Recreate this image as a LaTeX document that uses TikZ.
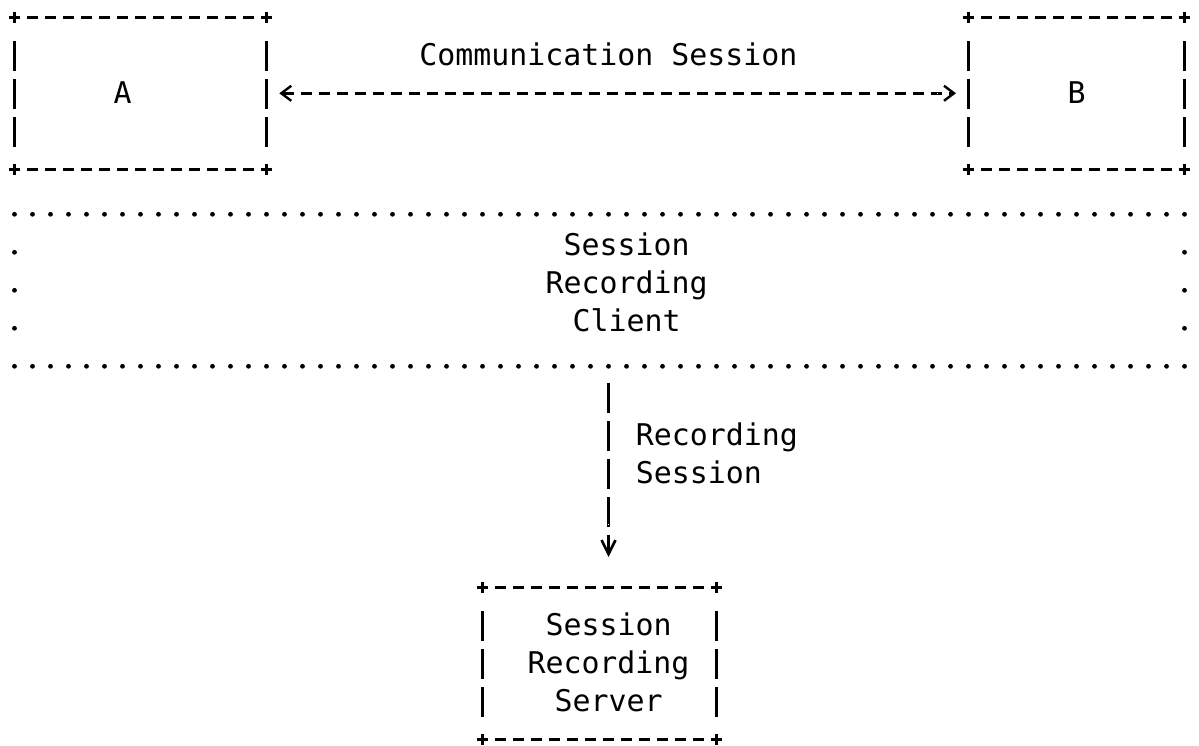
\documentclass[tikz,border=0pt]{standalone}
\usepackage{fontspec}
\newfontfamily\asciifont{DejaVu Sans Mono}
\usetikzlibrary{arrows.meta}

\newcommand{\asciibox}[1]{%
    \draw [hedge] ([xshift=-2.875pt]#1.north west) -- ([xshift=2.875pt]#1.north east);
    \draw [hedge] ([xshift=-2.875pt]#1.south west) -- ([xshift=2.875pt]#1.south east);
    \draw [vedge] ([yshift=-12pt]#1.north west) -- ([yshift=11pt]#1.south west);
    \draw [vedge] ([yshift=-12pt]#1.north east) -- ([yshift=11pt]#1.south east);
    \foreach \corner in {north west, north east, south west, south east}
        \draw [cross] ([yshift=2.9pt]#1.\corner) -- ([yshift=-2.9pt]#1.\corner);
}

\begin{document}
\begin{tikzpicture}[x=9pt, y=-19pt,
        abox/.style={minimum width=#1, minimum height=76pt, inner sep=0pt, outer sep=0pt},
        hedge/.style={line width=1.2pt, dash pattern=on 5.75pt off 3.25pt},
        vedge/.style={line width=1.3pt, dash pattern=on 15pt off 4pt},
        cross/.style={line width=1.3pt},
        hdots/.style={line width=2.4pt, line cap=round, dash pattern=on 0pt off 9pt},
        vdots/.style={line width=2.4pt, line cap=round, dash pattern=on 0pt off 19pt},
        txt/.style={font=\asciifont\fontsize{14.95pt}{19pt}\selectfont, inner sep=0pt, anchor=base, yshift=-5pt},
        comm/.style={line width=1.2pt, dash pattern=on 5.75pt off 3.25pt,
            {Straight Barb[length=5pt, width=7.5pt] Bar[width=0pt, line width=0pt, color=white, sep=3.5pt]}-{Bar[width=0pt, line width=0pt, color=white, sep=2.5pt] Straight Barb[length=5pt, width=7.5pt]},
            shorten <=6.4pt, shorten >=6.25pt},
        rec/.style={line width=1.3pt, dash pattern=on 15pt off 4pt,
            -{Bar[width=0pt, line width=0pt, color=white, sep=7pt] Straight Barb[length=7pt, width=7pt]},
            shorten <=8.5pt, shorten >=15.15pt}]
    \useasboundingbox (-0.8056, -0.4553) rectangle (65.806, 19.176);

    \node [abox=126pt] (A) at (7, 2) {};
    \node [abox=108pt] (B) at (59, 2) {};
    \node [abox=585pt, yshift=-3.5pt] (client) at (32.5, 7) {};
    \node [abox=117pt] (server) at (32.5, 17) {};

    \asciibox{A}
    \asciibox{B}
    \asciibox{server}

    \draw [hdots] (client.north west) -- ([xshift=1pt]client.north east);
    \draw [hdots] (client.south west) -- ([xshift=1pt]client.south east);
    \draw [vdots] ([yshift=-19pt]client.north west) -- ([yshift=18pt]client.south west);
    \draw [vdots] ([yshift=-19pt]client.north east) -- ([yshift=18pt]client.south east);

    \node [txt] (Alabel) at (6, 2) {A};
    \node [txt] (Blabel) at (59, 2) {B};
    \node [txt] (commlabel) at (33, 1) {Communication Session};
    \node [txt, align=center] (clientlabel) at (34, 8) {Session\\Recording\\Client};
    \node [txt, anchor=base west, align=left] (reclabel) at (34.5, 12) {Recording\\Session};
    \node [txt, align=center] (serverlabel) at (33, 18) {Session\\Recording\\Server};

    \draw [comm] (A.east) -- (B.west);
    \draw [rec] ([xshift=4.5pt]client.south) -- ([xshift=4.5pt]server.north);
\end{tikzpicture}
\end{document}
